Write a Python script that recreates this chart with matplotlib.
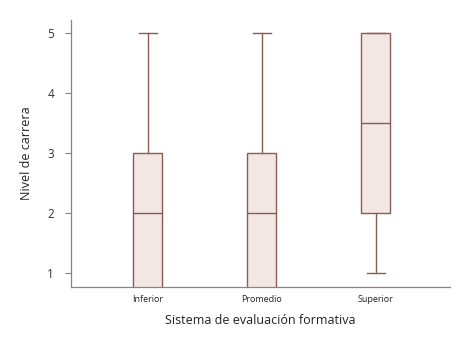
import matplotlib
matplotlib.use("Agg")
import matplotlib.pyplot as plt

categories = ["Inferior", "Promedio", "Superior"]
q1 = [0.5, 0.5, 2.0]
medians = [2.0, 2.0, 3.5]
q3 = [3.0, 3.0, 5.0]
whisker_low = [0.5, 0.5, 1.0]
whisker_high = [5.0, 5.0, 5.0]
yticks = [1, 2, 3, 4, 5]

edge = "#8C5B52"
fill = "#F3E7E4"
spine = "#9C7C76"

plt.rcParams['font.family'] = ['Open Sans', 'DejaVu Sans']

fig = plt.figure(figsize=(4.72, 3.39), dpi=100)
ax = fig.add_axes([0.150, 0.153, 0.803, 0.788])

stats = []
for i, c in enumerate(categories):
    stats.append(dict(label=c, med=medians[i], q1=q1[i], q3=q3[i],
                      whislo=whisker_low[i], whishi=whisker_high[i], fliers=[]))

ax.bxp(stats, positions=range(len(categories)), widths=0.25, patch_artist=True,
       showfliers=False,
       boxprops=dict(facecolor=fill, edgecolor=edge, linewidth=1.0),
       medianprops=dict(color=edge, linewidth=1.0),
       whiskerprops=dict(color=edge, linewidth=1.0),
       capprops=dict(color=edge, linewidth=1.0),
       capwidths=0.16)

ax.set_xlim(-0.675, 2.65)
ax.set_ylim(0.767, 5.217)
ax.set_yticks(yticks)
ax.set_yticklabels([str(v) for v in yticks], fontsize=8.5, color="#333333")
ax.set_xticks(range(len(categories)))
ax.set_xticklabels(categories, fontsize=6.5, color="#222222")
ax.tick_params(axis='x', length=0, pad=6)
ax.tick_params(axis='y', length=4, width=0.8, color=spine, pad=8)

for s in ["top", "right"]:
    ax.spines[s].set_visible(False)
for s in ["left", "bottom"]:
    ax.spines[s].set_color(spine)
    ax.spines[s].set_linewidth(0.9)

ax.set_xlabel("Sistema de evaluación formativa", fontsize=9, color="#222222", labelpad=7)
ax.set_ylabel("Nivel de carrera", fontsize=9, color="#222222")
ax.yaxis.set_label_coords(-0.100, 0.5)

fig.savefig("out.png", dpi=100)
